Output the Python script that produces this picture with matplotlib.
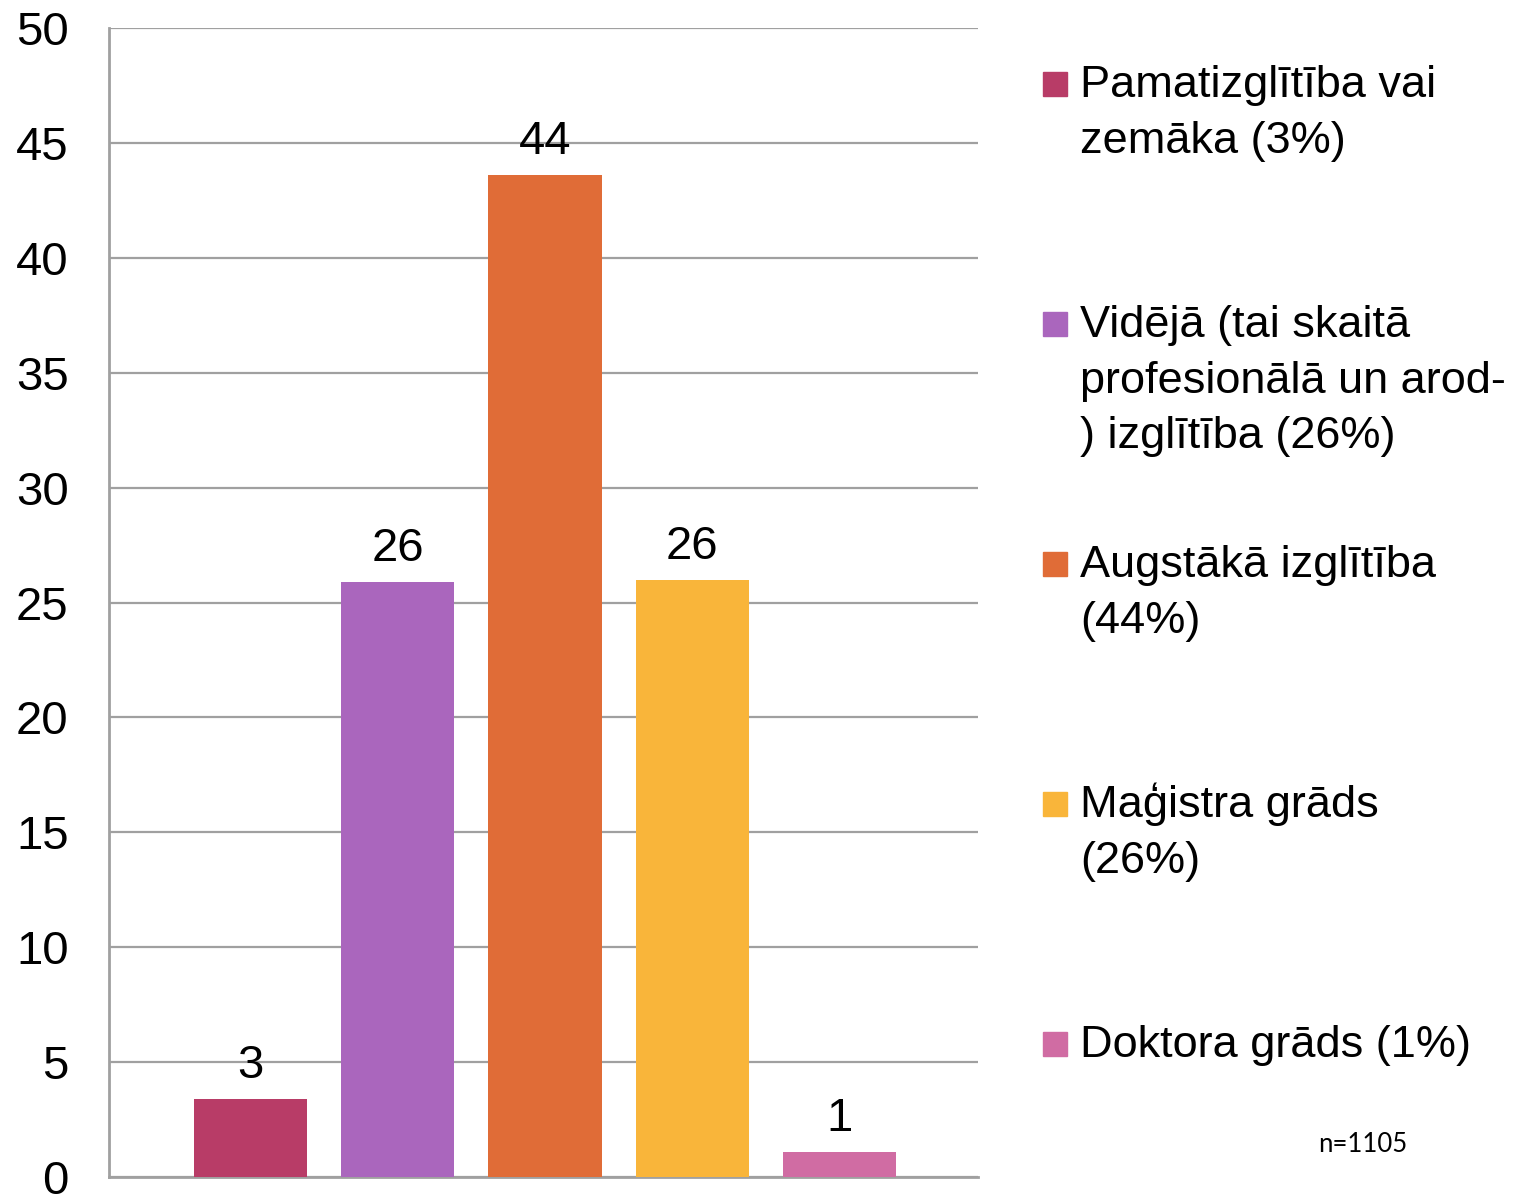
import matplotlib
matplotlib.use('Agg')
import matplotlib.pyplot as plt
from matplotlib.patches import Rectangle

plt.rcParams.update({'font.family': ['Liberation Sans', 'DejaVu Sans']})

# data
categories = [['Pamatizglītība vai', 'zemāka (3%)'],
              ['Vidējā (tai skaitā', 'profesionālā un arod-', ') izglītība (26%)'],
              ['Augstākā izglītība', '(44%)'],
              ['Maģistra grāds', '(26%)'],
              ['Doktora grāds (1%)']]
values = [3.4, 25.9, 43.6, 26.0, 1.1]
value_labels = ['3', '26', '44', '26', '1']
colors = ['#B83C67', '#AA66BD', '#E06C37', '#F9B53A', '#D06CA3']
yticks = list(range(0, 51, 5))

W, H = 1537, 1194
fig = plt.figure(figsize=(W / 100, H / 100), dpi=100)
ax = fig.add_axes([109 / W, (H - 1177) / H, (978 - 109) / W, (1177 - 28) / H])

x = list(range(len(values)))
ax.bar(x, values, width=0.77, color=colors, zorder=3)
for xi, v, lab in zip(x, values, value_labels):
    ax.annotate(lab, (xi, v), xytext=(0, 15), textcoords='offset points',
                ha='center', va='baseline', fontsize=34)

ax.set_xlim(-0.96, 4.94)
ax.set_ylim(0, 50)
ax.set_yticks(yticks)
ax.set_yticklabels([str(t) for t in yticks], fontsize=34)
ax.tick_params(axis='y', length=0, pad=29)
ax.set_xticks([])
ax.grid(axis='y', color='#A0A0A0', linewidth=1.6, zorder=0)
for s in ['top', 'right']:
    ax.spines[s].set_visible(False)
for s in ['left', 'bottom']:
    ax.spines[s].set_color('#A0A0A0')
    ax.spines[s].set_linewidth(2)

# legend drawn by hand: entries on an even 240 px pitch, one text per line
for i, (lines, c) in enumerate(zip(categories, colors)):
    yc = 84 + 240 * i
    fig.patches.append(Rectangle((1043 / W, 1 - (yc + 12) / H), 24 / W, 24 / H,
                                 transform=fig.transFigure, color=c))
    for k, line in enumerate(lines):
        fig.text(1080 / W, 1 - (yc + 13 + 55.5 * k) / H, line,
                 ha='left', va='baseline', fontsize=32.5)

fig.text(1363 / W, 1 - 1145 / H, 'n=1105', ha='center', va='center',
         fontsize=18.5, family=['Lato', 'DejaVu Sans'])

plt.savefig('out.png', dpi=100)
plt.close()
